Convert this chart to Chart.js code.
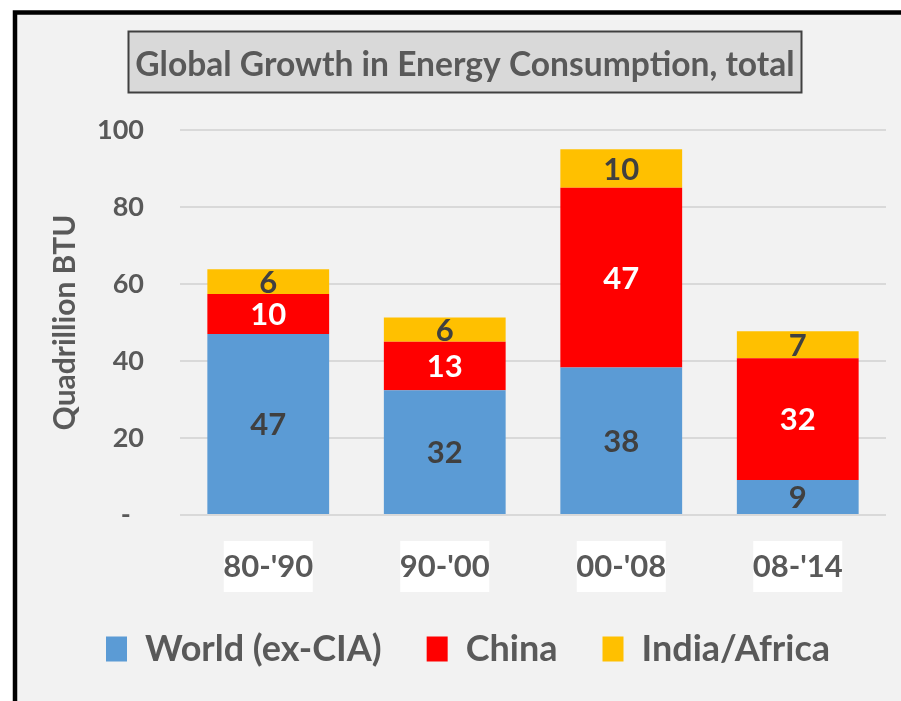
<!DOCTYPE html>
<html>
<head>
<meta charset="utf-8">
<script src="https://cdn.jsdelivr.net/npm/chart.js@4.4.1/dist/chart.umd.min.js"></script>
<style>
  html, body { margin: 0; padding: 0; background: #ffffff; overflow: hidden; }
  canvas { display: block; }
</style>
</head>
<body>
<canvas id="c" width="901" height="701"></canvas>
<script>
// ---- Data ----
const categories = ["80-'90", "90-'00", "00-'08", "08-'14"];
const worldExCIA = [47.0, 32.4, 38.3, 9.1];
const china = [10.4, 12.6, 46.7, 31.6];
const indiaAfrica = [6.4, 6.3, 10.0, 7.0];
const seriesNames = ['World (ex-CIA)', 'China', 'India/Africa'];
const yTickValues = [0, 20, 40, 60, 80, 100];
const yTickLabels = ['-', '20', '40', '60', '80', '100'];
const chartTitle = 'Global Growth in Energy Consumption, total';
const yAxisTitle = 'Quadrillion BTU';

const FONT = 'Lato, "Open Sans", "DejaVu Sans", sans-serif';
const TEXT = '#595959';

const frameAndDecor = {
  id: 'frameAndDecor',
  beforeDraw(chart) {
    const ctx = chart.ctx;
    ctx.save();
    ctx.fillStyle = '#ffffff';
    ctx.fillRect(0, 0, chart.width, chart.height);
    // panel background + black frame
    ctx.fillStyle = '#f2f2f2';
    ctx.fillRect(15, 12.5, 900, 700);
    ctx.strokeStyle = '#000000';
    ctx.lineWidth = 4.5;
    ctx.strokeRect(15, 12.5, 900, 700);
    // title box
    ctx.fillStyle = '#d9d9d9';
    ctx.fillRect(128.5, 31.5, 673, 61);
    ctx.strokeStyle = '#404040';
    ctx.lineWidth = 2;
    ctx.strokeRect(128.5, 31.5, 673, 61);
    ctx.fillStyle = TEXT;
    ctx.font = 'bold 33.6px ' + FONT;
    ctx.textAlign = 'center';
    ctx.textBaseline = 'alphabetic';
    ctx.fillText(chartTitle, 465, 76);
    // white boxes behind category labels
    const xs = chart.scales.x;
    ctx.fillStyle = '#ffffff';
    for (let i = 0; i < categories.length; i++) {
      const px = xs.getPixelForTick(i);
      ctx.fillRect(px - 44.5, 541, 89, 51);
    }
    ctx.restore();
  }
};

const segmentLabels = {
  id: 'segmentLabels',
  afterDatasetsDraw(chart) {
    const ctx = chart.ctx;
    ctx.save();
    ctx.font = 'bold 31px ' + FONT;
    ctx.textAlign = 'center';
    ctx.textBaseline = 'middle';
    chart.data.datasets.forEach((ds, di) => {
      const meta = chart.getDatasetMeta(di);
      meta.data.forEach((bar, i) => {
        const v = ds.data[i];
        const props = bar.getProps(['x', 'y', 'base'], true);
        ctx.fillStyle = ds.labelColor;
        ctx.fillText(String(Math.round(v)), props.x, (props.y + props.base) / 2 + 1);
      });
    });
    ctx.restore();
  }
};

new Chart(document.getElementById('c'), {
  type: 'bar',
  data: {
    labels: categories,
    datasets: [
      { label: seriesNames[0], data: worldExCIA, backgroundColor: '#5b9bd5', borderWidth: 0, labelColor: '#404040' },
      { label: seriesNames[1], data: china, backgroundColor: '#ff0000', borderWidth: 0, labelColor: '#ffffff' },
      { label: seriesNames[2], data: indiaAfrica, backgroundColor: '#ffc000', borderWidth: 0, labelColor: '#404040' }
    ]
  },
  options: {
    responsive: false,
    animation: false,
    devicePixelRatio: 1,
    layout: { padding: { left: 50, right: 15, top: 130, bottom: 24 } },
    datasets: { bar: { categoryPercentage: 1.0, barPercentage: 0.69 } },
    plugins: {
      title: { display: false },
      tooltip: { enabled: false },
      legend: {
        position: 'bottom',
        labels: {
          boxWidth: 21,
          boxHeight: 25,
          padding: 45,
          color: TEXT,
          font: { family: FONT, size: 36, weight: 'bold' }
        }
      }
    },
    scales: {
      x: {
        stacked: true,
        grid: { display: false, drawTicks: false },
        border: { display: false },
        ticks: { color: TEXT, padding: 33, font: { family: FONT, size: 31, weight: 'bold' } },
        afterFit(s) { s.height = 71; }
      },
      y: {
        stacked: true,
        min: 0,
        max: 100,
        afterBuildTicks(s) { s.ticks = yTickValues.map(v => ({ value: v })); },
        grid: { color: '#d9d9d9', lineWidth: 2, drawTicks: false },
        border: { display: false },
        ticks: {
          color: TEXT,
          padding: 36,
          font: { family: FONT, size: 27, weight: 'bold' },
          callback(value) {
            const i = yTickValues.indexOf(value);
            const t = i >= 0 ? yTickLabels[i] : '';
            return t === '-' ? '-  ' : t;
          }
        },
        title: {
          display: true,
          text: yAxisTitle,
          color: TEXT,
          padding: { top: 0, bottom: 0 },
          font: { family: FONT, size: 30, weight: 'bold', lineHeight: 1 }
        },
        afterFit(s) { s.width = 130; }
      }
    }
  },
  plugins: [frameAndDecor, segmentLabels]
});
</script>
</body>
</html>
